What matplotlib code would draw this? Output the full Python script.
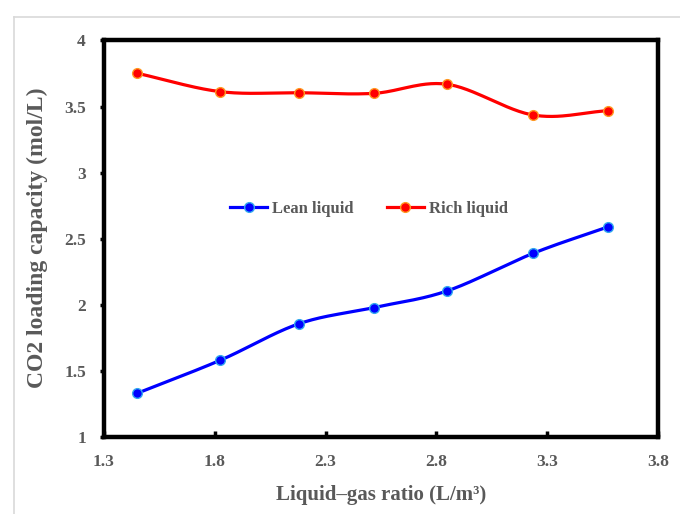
import numpy as np
import matplotlib
matplotlib.use("Agg")
import matplotlib.pyplot as plt
from matplotlib.lines import Line2D

# Data
liquid_gas_ratio = [1.45, 1.825, 2.18, 2.517, 2.848, 3.237, 3.575]
lean_liquid = [1.331, 1.581, 1.857, 1.979, 2.105, 2.390, 2.590]
rich_liquid = [3.752, 3.613, 3.605, 3.600, 3.669, 3.436, 3.469]
x_ticks = [1.3, 1.8, 2.3, 2.8, 3.3, 3.8]
x_tick_labels = ["1.3", "1.8", "2.3", "2.8", "3.3", "3.8"]
y_ticks = [1, 1.5, 2, 2.5, 3, 3.5, 4]
y_tick_labels = ["1", "1.5", "2", "2.5", "3", "3.5", "4"]

plt.rcParams['font.family'] = ['Liberation Serif', 'DejaVu Serif']
TXT = '#595959'


def smooth(xs, ys, n=30):
    # Bezier smoothing of the drawn line (Excel "smoothed line")
    p = np.column_stack([xs, ys]).astype(float)
    p_ext = np.vstack([p[0] - (p[1] - p[0]), p, p[-1] + (p[-1] - p[-2])])
    out = []
    for i in range(1, len(p_ext) - 2):
        p0, p1, p2, p3 = p_ext[i - 1], p_ext[i], p_ext[i + 1], p_ext[i + 2]
        c1 = p1 + (p2 - p0) / 6.0
        c2 = p2 - (p3 - p1) / 6.0
        t = np.linspace(0, 1, n)[:, None]
        seg = ((1 - t) ** 3) * p1 + 3 * ((1 - t) ** 2) * t * c1 + 3 * (1 - t) * t ** 2 * c2 + t ** 3 * p2
        out.append(seg if i == 1 else seg[1:])
    s = np.vstack(out)
    return s[:, 0], s[:, 1]


fig = plt.figure(figsize=(6.8, 5.14), dpi=100)
ax = fig.add_axes([104 / 680, 1 - 437 / 514, (658 - 104) / 680, (437 - 40.5) / 514])

lx, ly = smooth(liquid_gas_ratio, lean_liquid)
rx, ry = smooth(liquid_gas_ratio, rich_liquid)
ax.plot(lx, ly, color='#0000FF', lw=2.3, zorder=3)
ax.plot(rx, ry, color='#FF0000', lw=2.3, zorder=3)
ax.plot(liquid_gas_ratio, lean_liquid, linestyle='none', marker='o', ms=7,
        mfc='#0000FF', mec='#33AAEE', mew=1.0, zorder=4)
ax.plot(liquid_gas_ratio, rich_liquid, linestyle='none', marker='o', ms=7,
        mfc='#FF0000', mec='#FF9922', mew=1.0, zorder=4)

handles = [Line2D([], [], color='#0000FF', lw=2.3, marker='o', ms=7, mfc='#0000FF', mec='#33AAEE'),
           Line2D([], [], color='#FF0000', lw=2.3, marker='o', ms=7, mfc='#FF0000', mec='#FF9922')]
leg = ax.legend(handles, ['Lean liquid', 'Rich liquid'], ncol=2, frameon=False,
                loc='center', bbox_to_anchor=(369 / 680, 1 - 209 / 514),
                bbox_transform=fig.transFigure, handlelength=2.2, handletextpad=0.3,
                columnspacing=2.0, prop={'weight': 'bold', 'size': 12})
for t in leg.get_texts():
    t.set_color(TXT)

ax.set_xlim(1.3, 3.8)
ax.set_ylim(1, 4)
ax.set_xticks(x_ticks)
ax.set_xticklabels(x_tick_labels)
ax.set_yticks(y_ticks)
ax.set_yticklabels(y_tick_labels)
ax.tick_params(axis='x', direction='in', length=4, width=2.5, colors='black', labelcolor=TXT,
               labelsize=12.5, pad=12, top=False)
ax.tick_params(axis='y', direction='out', length=3, width=2.5, colors='black', labelcolor=TXT,
               labelsize=12.5, pad=10, right=False)
for lab in ax.get_xticklabels() + ax.get_yticklabels():
    lab.set_fontweight('bold')
for s in ax.spines.values():
    s.set_linewidth(3.2)
    s.set_color('black')

ax.set_xlabel('Liquid\u2013gas ratio (L/m\u00b3)', fontsize=15, fontweight='bold', color=TXT, labelpad=11)
fig.text(37 / 680, 1 - 238 / 514, 'CO2 loading capacity (mol/L)', rotation=90, fontsize=17,
         fontweight='bold', color=TXT, ha='center', va='center')

# light chart-area border (top and left)
fig.add_artist(Line2D([14 / 680, 1], [1 - 17 / 514, 1 - 17 / 514], transform=fig.transFigure,
                      color='#D9D9D9', lw=1.2))
fig.add_artist(Line2D([14 / 680, 14 / 680], [0, 1 - 17 / 514], transform=fig.transFigure,
                      color='#D9D9D9', lw=1.2))

fig.savefig('out.png', dpi=100)
